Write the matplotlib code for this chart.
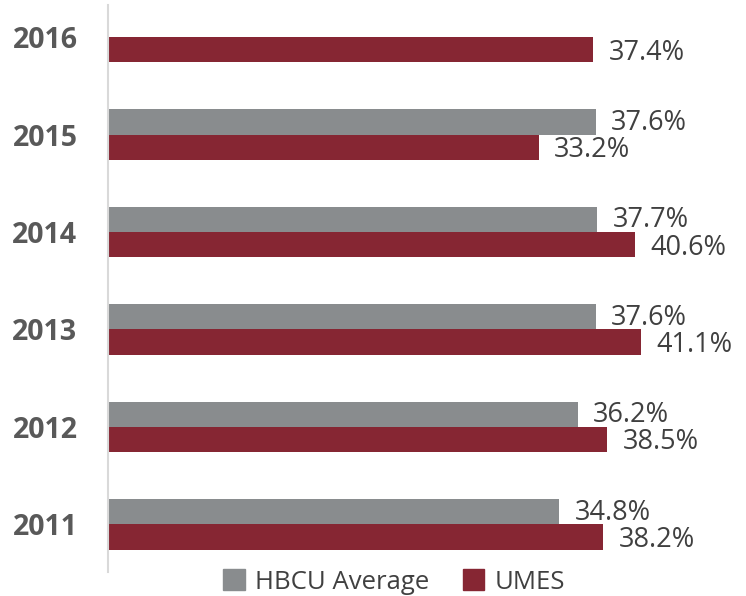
import matplotlib
matplotlib.use("Agg")
import matplotlib.pyplot as plt
import numpy as np
from matplotlib.patches import Patch

years = ["2011", "2012", "2013", "2014", "2015", "2016"]
hbcu = [34.8, 36.2, 37.6, 37.7, 37.6, None]
umes = [38.2, 38.5, 41.1, 40.6, 33.2, 37.4]

GRAY = "#898C8E"
MAROON = "#862633"
TXT = "#404040"
YEARC = "#595959"

fig = plt.figure(figsize=(7.46, 5.96), dpi=100)
ax = fig.add_axes([108/746, 1 - 572/596, (740-108)/746, (572-5)/596])

y = np.arange(len(years))
h = 0.26
for i, (a, b) in enumerate(zip(hbcu, umes)):
    if a is not None:
        ax.barh(y[i] + h/2, a, height=h, color=GRAY)
        ax.text(a + 1.2, y[i] + h/2 - 0.01, f"{a:.1f}%", va="center", ha="left",
                fontsize=19.5, color=TXT, family="Open Sans")
    ax.barh(y[i] - h/2, b, height=h, color=MAROON)
    ax.text(b + 1.2, y[i] - h/2 - 0.03, f"{b:.1f}%", va="center", ha="left",
            fontsize=19.5, color=TXT, family="Open Sans")

ax.set_xlim(0, (740-108)/12.97)
ax.set_ylim(-0.49, 5.33)
ax.set_yticks(y)
ax.set_yticklabels(years, fontsize=20.5, fontweight="bold", color=YEARC, family="Open Sans")
ax.tick_params(axis="y", length=0, pad=22)
ax.set_xticks([])
for s in ["top", "right", "bottom"]:
    ax.spines[s].set_visible(False)
ax.spines["left"].set_color("#D9D9D9")
ax.spines["left"].set_linewidth(1.5)

handles = [Patch(color=GRAY, label="HBCU Average"), Patch(color=MAROON, label="UMES")]
leg = fig.legend(handles=handles, loc="center", bbox_to_anchor=(394/746, 1 - 582/596),
                 ncol=2, frameon=False, handlelength=0.85, handleheight=0.85,
                 handletextpad=0.4, columnspacing=1.3,
                 prop={"family": "Open Sans", "size": 18.5})
for t in leg.get_texts():
    t.set_color(TXT)

fig.savefig("out.png", dpi=100)
